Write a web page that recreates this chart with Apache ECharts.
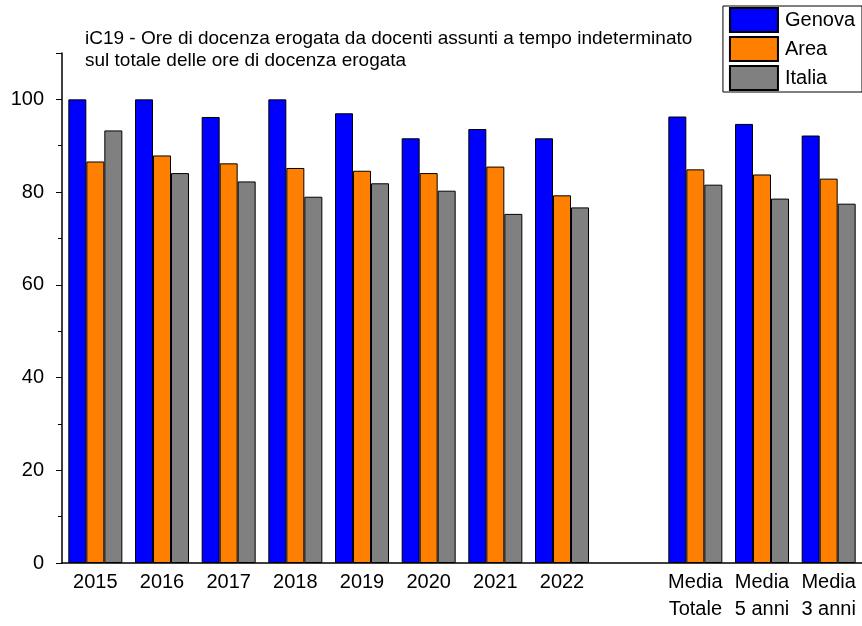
<!DOCTYPE html>
<html>
<head>
<meta charset="utf-8">
<script src="https://cdn.jsdelivr.net/npm/echarts@6/dist/echarts.min.js"></script>
<style>
  html, body { margin: 0; padding: 0; background: #fff; }
  #ch { width: 862px; height: 626px; }
</style>
</head>
<body>
<div id="ch"></div>
<script>
var categories = ['2015', '2016', '2017', '2018', '2019', '2020', '2021', '2022', '', 'Media\nTotale', 'Media\n5 anni', 'Media\n3 anni'];
var genova = [100, 100, 96.2, 100, 97.0, 91.6, 93.6, 91.6, '-', 96.3, 94.7, 92.2];
var area   = [86.6, 87.9, 86.2, 85.2, 84.6, 84.1, 85.5, 79.3, '-', 84.9, 83.8, 82.9];
var italia = [93.3, 84.1, 82.3, 79.0, 81.9, 80.3, 75.3, 76.7, '-', 81.6, 78.6, 77.5];
var yTicks = [0, 20, 40, 60, 80, 100];

var font = 'Liberation Sans, Arial, sans-serif';
var chart = echarts.init(document.getElementById('ch'));

function bar(name, color, data) {
    return {
        name: name,
        type: 'bar',
        data: data,
        barGap: 0,
        barCategoryGap: '19%',
        itemStyle: { color: color, borderColor: '#000', borderWidth: 1 }
    };
}

var option = {
    animation: false,
    textStyle: { fontFamily: font },
    title: {
        text: 'iC19 - Ore di docenza erogata da docenti assunti a tempo indeterminato\nsul totale delle ore di docenza erogata',
        left: 80,
        top: 23,
        textStyle: { fontSize: 19, fontWeight: 'normal', color: '#000', lineHeight: 22, fontFamily: font }
    },
    legend: {
        orient: 'vertical',
        right: 0,
        top: 6,
        icon: 'rect',
        itemWidth: 48,
        itemHeight: 24,
        itemGap: 3,
        padding: [1, 7, 1, 6],
        borderColor: '#000',
        borderWidth: 1,
        textStyle: { fontSize: 20, color: '#000', padding: [0, 0, 0, 2] },
        data: ['Genova', 'Area', 'Italia']
    },
    grid: { left: 62, right: 0, top: 53, bottom: 63 },
    xAxis: {
        type: 'category',
        data: categories,
        axisLine: { lineStyle: { color: '#000', width: 1.5 } },
        axisTick: { show: false },
        axisLabel: { color: '#000', fontSize: 20, lineHeight: 27, margin: 6, interval: 0 }
    },
    yAxis: {
        type: 'value',
        min: 0,
        max: 110,
        interval: 20,
        splitLine: { show: false },
        axisLine: { show: true, lineStyle: { color: '#000', width: 1.5 } },
        axisTick: { show: true, length: 6, lineStyle: { color: '#000' } },
        minorTick: { show: true, splitNumber: 2, length: 4, lineStyle: { color: '#000' } },
        axisLabel: {
            color: '#000', fontSize: 20, margin: 18,
            formatter: function (v) { return yTicks.indexOf(v) >= 0 ? String(v) : ''; }
        }
    },
    series: [
        bar('Genova', '#0000ff', genova),
        bar('Area', '#ff8000', area),
        bar('Italia', '#808080', italia)
    ]
};
chart.setOption(option);
</script>
</body>
</html>
